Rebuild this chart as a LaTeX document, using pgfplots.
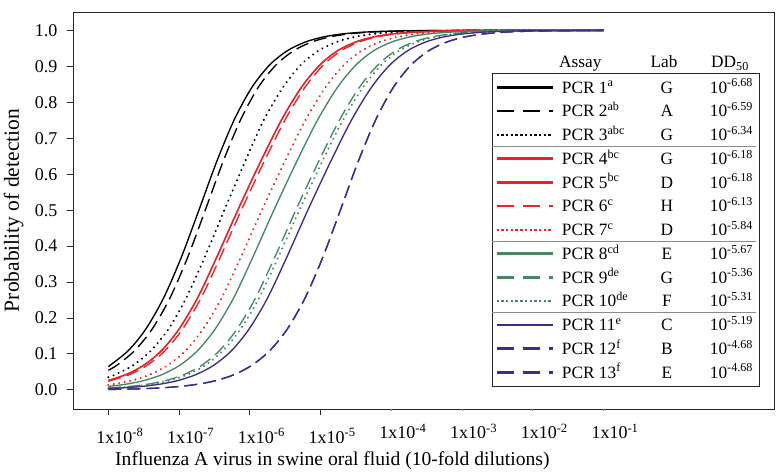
\documentclass[border=0pt]{standalone}
\usepackage{fontspec}
\setmainfont{Liberation Serif}
\usepackage{pgfplots}
\pgfplotsset{compat=1.18}
\definecolor{cred}{RGB}{235,35,38}
\definecolor{cgreen}{RGB}{72,135,102}
\definecolor{cpurple}{RGB}{62,45,138}
\newcommand{\lent}[3]{\makebox[194pt][l]{\rlap{PCR #1}\hspace{105pt}\makebox[0pt]{#2}\hfill 10\textsuperscript{#3}\hspace{3pt}}}
\pgfplotsset{
  legsolid/.style={legend image code/.code={\draw[##1,line width=2.5pt,solid,line cap=butt] (0pt,0pt)--(56pt,0pt);}},
  legdash/.style={legend image code/.code={\draw[##1,line width=2.5pt,line cap=butt,dash pattern=on 17pt off 9pt] (0pt,0pt)--(56pt,0pt);}},
  legdot/.style={legend image code/.code={\draw[##1,line width=2.5pt,line cap=butt,dash pattern=on 2.4pt off 2.3pt] (0pt,0pt)--(56pt,0pt);}},
  psolid/.style={line width=1.35pt, solid, legsolid},
  pdash/.style={line width=1.35pt, dash pattern=on 13pt off 6pt, legdash},
  pdot/.style={line width=2.3pt, line cap=round, dash pattern=on 0.01pt off 5.5pt, legdot},
}
\begin{document}
\begin{tikzpicture}
\begin{axis}[
  scale only axis, width=701pt, height=397pt,
  at={(0,0)}, anchor=south west,
  xmin=-8.5, xmax=1.41, ymin=-0.053, ymax=1.051,
  axis line style={line width=1pt, black!85},
  tick style={line width=1pt, black!85},
  tick align=outside, major tick length=6pt,
  tick pos=left,
  xtick={-8,-7,-6,-5},
  xticklabels={1x10\textsuperscript{-8},1x10\textsuperscript{-7},1x10\textsuperscript{-6},1x10\textsuperscript{-5}},
  extra x ticks={-4,-3,-2,-1},
  extra x tick labels={1x10\textsuperscript{-4},1x10\textsuperscript{-3},1x10\textsuperscript{-2},1x10\textsuperscript{-1}},
  extra x tick style={major tick length=1.5pt, tick style={black!50}},
  xticklabel style={anchor=base, xshift=11.5pt, yshift=-28pt},
  ytick={0,0.1,0.2,0.3,0.4,0.5,0.6,0.7,0.8,0.9,1.0},
  yticklabel style={xshift=-6pt, /pgf/number format/fixed, /pgf/number format/fixed zerofill, /pgf/number format/precision=1},
  /pgf/number format/assume math mode=true,
  tick label style={font=\fontsize{18pt}{20pt}\selectfont},
  xlabel={Influenza A virus in swine oral fluid (10-fold dilutions)},
  xlabel style={at={(axis description cs:0.0599,-0.1411)}, anchor=base west, font=\fontsize{19.6pt}{23pt}\selectfont, inner sep=0pt},
  ylabel={Probability of detection},
  ylabel style={at={(axis description cs:-0.0773,0.5)}, anchor=base, font=\fontsize{21.5pt}{24pt}\selectfont, inner sep=0pt},
  legend style={at={(0.5977,0.8463)}, anchor=north west, draw=black!85, line width=0.9pt, fill=white,
    inner xsep=3pt, inner ysep=2pt, nodes={inner sep=0pt, text height=17.65pt, text depth=6.1pt}, column sep=8pt, row sep=0pt,
    font=\fontsize{17.3pt}{20pt}\selectfont, cells={anchor=west}},
]
\coordinate (ll) at (rel axis cs:0,0);
% PCR 1
\addplot[black, psolid, smooth] coordinates {(-8,0.0650) (-7.72,0.1090) (-7.47,0.1695) (-7.22,0.2555) (-6.97,0.3682) (-6.72,0.5) (-6.47,0.6342) (-6.22,0.7517) (-5.97,0.8418) (-5.72,0.9038) (-5.47,0.9433) (-5.22,0.9672) (-4.97,0.9813) (-4.72,0.9894) (-4.47,0.9940) (-4.22,0.9966) (-3.97,0.9981) (-3.72,0.9989) (-3.22,0.9997) (-2.5,1) (-1,1)};
\addlegendentry{\lent{1\textsuperscript{a}}{G}{-6.68}}
% PCR 2
\addplot[black, pdash, smooth] coordinates {(-8,0.0549) (-7.88,0.0687) (-7.63,0.1090) (-7.38,0.1695) (-7.13,0.2555) (-6.88,0.3682) (-6.63,0.5) (-6.38,0.6342) (-6.13,0.7517) (-5.88,0.8418) (-5.63,0.9038) (-5.38,0.9433) (-5.13,0.9672) (-4.88,0.9813) (-4.63,0.9894) (-4.38,0.9940) (-4.13,0.9966) (-3.88,0.9981) (-3.63,0.9989) (-3.13,0.9997) (-2.5,1) (-1,1)};
\addlegendentry{\lent{2\textsuperscript{ab}}{A}{-6.59}}
% PCR 3
\addplot[black, pdot, smooth] coordinates {(-8,0.0354) (-7.90,0.0428) (-7.65,0.0687) (-7.40,0.1090) (-7.15,0.1695) (-6.90,0.2555) (-6.64,0.3682) (-6.36,0.5) (-6.07,0.6342) (-5.80,0.7517) (-5.53,0.8418) (-5.28,0.9038) (-5.03,0.9433) (-4.78,0.9672) (-4.53,0.9813) (-4.28,0.9894) (-4.03,0.9940) (-3.78,0.9966) (-3.53,0.9981) (-3.28,0.9989) (-2.78,0.9997) (-2.1,1) (-1,1)};
\addlegendentry{\lent{3\textsuperscript{abc}}{G}{-6.34}}
% PCR 4
\addplot[cred, psolid, smooth] coordinates {(-8,0.0265) (-7.75,0.0428) (-7.50,0.0687) (-7.25,0.1090) (-7.00,0.1695) (-6.74,0.2555) (-6.47,0.3682) (-6.17,0.5) (-5.85,0.6342) (-5.55,0.7517) (-5.27,0.8418) (-5.01,0.9038) (-4.76,0.9433) (-4.51,0.9672) (-4.26,0.9813) (-4.01,0.9894) (-3.76,0.9940) (-3.51,0.9966) (-3.26,0.9981) (-3.01,0.9989) (-2.51,0.9997) (-1.8,1) (-1,1)};
\addlegendentry{\lent{4\textsuperscript{bc}}{G}{-6.18}}
% PCR 5
\addplot[cred, psolid, smooth] coordinates {(-8,0.0265) (-7.75,0.0428) (-7.50,0.0687) (-7.25,0.1090) (-7.00,0.1695) (-6.74,0.2555) (-6.47,0.3682) (-6.17,0.5) (-5.85,0.6342) (-5.55,0.7517) (-5.27,0.8418) (-5.01,0.9038) (-4.76,0.9433) (-4.51,0.9672) (-4.26,0.9813) (-4.01,0.9894) (-3.76,0.9940) (-3.51,0.9966) (-3.26,0.9981) (-3.01,0.9989) (-2.51,0.9997) (-1.8,1) (-1,1)};
\addlegendentry{\lent{5\textsuperscript{bc}}{D}{-6.18}}
% PCR 6
\addplot[cred, pdash, smooth] coordinates {(-8,0.0241) (-7.70,0.0428) (-7.45,0.0687) (-7.20,0.1090) (-6.95,0.1695) (-6.69,0.2555) (-6.42,0.3682) (-6.12,0.5) (-5.80,0.6342) (-5.50,0.7517) (-5.22,0.8418) (-4.96,0.9038) (-4.71,0.9433) (-4.46,0.9672) (-4.21,0.9813) (-3.96,0.9894) (-3.71,0.9940) (-3.46,0.9966) (-3.21,0.9981) (-2.96,0.9989) (-2.46,0.9997) (-1.8,1) (-1,1)};
\addlegendentry{\lent{6\textsuperscript{c}}{H}{-6.13}}
% PCR 7
\addplot[cred, pdot, smooth] coordinates {(-8,0.0137) (-7.66,0.0265) (-7.41,0.0428) (-7.16,0.0687) (-6.91,0.1090) (-6.66,0.1695) (-6.40,0.2555) (-6.13,0.3682) (-5.83,0.5) (-5.51,0.6342) (-5.21,0.7517) (-4.93,0.8418) (-4.67,0.9038) (-4.42,0.9433) (-4.17,0.9672) (-3.92,0.9813) (-3.67,0.9894) (-3.42,0.9940) (-3.17,0.9966) (-2.92,0.9981) (-2.67,0.9989) (-2.17,0.9997) (-1.5,1) (-1,1)};
\addlegendentry{\lent{7\textsuperscript{c}}{D}{-5.84}}
% PCR 8
\addplot[cgreen, psolid, smooth] coordinates {(-8,0.0099) (-7.74,0.0164) (-7.49,0.0265) (-7.24,0.0428) (-6.99,0.0687) (-6.74,0.1090) (-6.49,0.1695) (-6.23,0.2555) (-5.96,0.3682) (-5.66,0.5) (-5.34,0.6342) (-5.04,0.7517) (-4.76,0.8418) (-4.50,0.9038) (-4.25,0.9433) (-4.00,0.9672) (-3.75,0.9813) (-3.50,0.9894) (-3.25,0.9940) (-3.00,0.9966) (-2.75,0.9981) (-2.50,0.9989) (-2.00,0.9997) (-1,1)};
\addlegendentry{\lent{8\textsuperscript{cd}}{E}{-5.67}}
% PCR 9
\addplot[cgreen, pdash, smooth] coordinates {(-8,0.0054) (-7.68,0.0101) (-7.43,0.0164) (-7.18,0.0265) (-6.93,0.0428) (-6.68,0.0687) (-6.43,0.1090) (-6.18,0.1695) (-5.92,0.2555) (-5.65,0.3682) (-5.35,0.5) (-5.03,0.6342) (-4.73,0.7517) (-4.45,0.8418) (-4.19,0.9038) (-3.94,0.9433) (-3.69,0.9672) (-3.44,0.9813) (-3.19,0.9894) (-2.94,0.9940) (-2.69,0.9966) (-2.44,0.9981) (-2.19,0.9989) (-1.69,0.9997) (-1,1)};
\addlegendentry{\lent{9\textsuperscript{de}}{G}{-5.36}}
% PCR 10
\addplot[cgreen, pdot, smooth] coordinates {(-8,0.0049) (-7.88,0.0062) (-7.63,0.0101) (-7.38,0.0164) (-7.13,0.0265) (-6.88,0.0428) (-6.63,0.0687) (-6.38,0.1090) (-6.13,0.1695) (-5.87,0.2555) (-5.60,0.3682) (-5.30,0.5) (-4.98,0.6342) (-4.68,0.7517) (-4.40,0.8418) (-4.14,0.9038) (-3.89,0.9433) (-3.64,0.9672) (-3.39,0.9813) (-3.14,0.9894) (-2.89,0.9940) (-2.64,0.9966) (-2.39,0.9981) (-2.14,0.9989) (-1.64,0.9997) (-1,1)};
\addlegendentry{\lent{10\textsuperscript{de}}{F}{-5.31}}
% PCR 11
\addplot[cpurple, psolid, smooth] coordinates {(-8,0.0039) (-7.76,0.0062) (-7.51,0.0101) (-7.26,0.0164) (-7.01,0.0265) (-6.76,0.0428) (-6.51,0.0687) (-6.26,0.1090) (-6.01,0.1695) (-5.75,0.2555) (-5.48,0.3682) (-5.18,0.5) (-4.86,0.6342) (-4.56,0.7517) (-4.28,0.8418) (-4.02,0.9038) (-3.77,0.9433) (-3.52,0.9672) (-3.27,0.9813) (-3.02,0.9894) (-2.77,0.9940) (-2.52,0.9966) (-2.27,0.9981) (-2.02,0.9989) (-1.52,0.9997) (-1,1)};
\addlegendentry{\lent{11\textsuperscript{e}}{C}{-5.19}}
% PCR 12
\addplot[cpurple, pdash, smooth] coordinates {(-8,0.0014) (-7.72,0.0023) (-7.47,0.0038) (-7.22,0.0062) (-6.97,0.0101) (-6.72,0.0164) (-6.47,0.0265) (-6.22,0.0428) (-5.97,0.0687) (-5.72,0.1090) (-5.47,0.1695) (-5.22,0.2555) (-4.97,0.3682) (-4.72,0.5) (-4.47,0.6342) (-4.22,0.7517) (-3.97,0.8418) (-3.72,0.9038) (-3.47,0.9433) (-3.22,0.9672) (-2.97,0.9813) (-2.72,0.9894) (-2.47,0.9940) (-2.22,0.9966) (-1.97,0.9981) (-1.72,0.9989) (-1,0.9998)};
\addlegendentry{\lent{12\textsuperscript{f}}{B}{-4.68}}
% PCR 13
\addplot[cpurple, pdash, smooth] coordinates {(-8,0.0014) (-7.72,0.0023) (-7.47,0.0038) (-7.22,0.0062) (-6.97,0.0101) (-6.72,0.0164) (-6.47,0.0265) (-6.22,0.0428) (-5.97,0.0687) (-5.72,0.1090) (-5.47,0.1695) (-5.22,0.2555) (-4.97,0.3682) (-4.72,0.5) (-4.47,0.6342) (-4.22,0.7517) (-3.97,0.8418) (-3.72,0.9038) (-3.47,0.9433) (-3.22,0.9672) (-2.97,0.9813) (-2.72,0.9894) (-2.47,0.9940) (-2.22,0.9966) (-1.97,0.9981) (-1.72,0.9989) (-1,0.9998)};
\addlegendentry{\lent{13\textsuperscript{f}}{E}{-4.68}}
\end{axis}
\node[anchor=base west, inner sep=0pt, font=\fontsize{17.3pt}{20pt}\selectfont] at ([shift={(486pt,341pt)}]ll) {Assay};
\node[anchor=base, inner sep=0pt, font=\fontsize{17.3pt}{20pt}\selectfont] at ([shift={(591pt,341pt)}]ll) {Lab};
\node[anchor=base east, inner sep=0pt, font=\fontsize{17.3pt}{20pt}\selectfont] at ([shift={(676pt,341pt)}]ll) {DD\textsubscript{50}};
\draw[black!45, line width=0.9pt] ([shift={(419pt,262.75pt)}]ll) -- ([shift={(683pt,262.75pt)}]ll);
\draw[black!45, line width=0.9pt] ([shift={(419pt,167.75pt)}]ll) -- ([shift={(683pt,167.75pt)}]ll);
\draw[black!45, line width=0.9pt] ([shift={(419pt,96.5pt)}]ll) -- ([shift={(683pt,96.5pt)}]ll);
\pgfresetboundingbox
\path[use as bounding box] ([shift={(-73pt,-63pt)}]ll) rectangle ([shift={(705pt,409pt)}]ll);
\end{tikzpicture}
\end{document}
